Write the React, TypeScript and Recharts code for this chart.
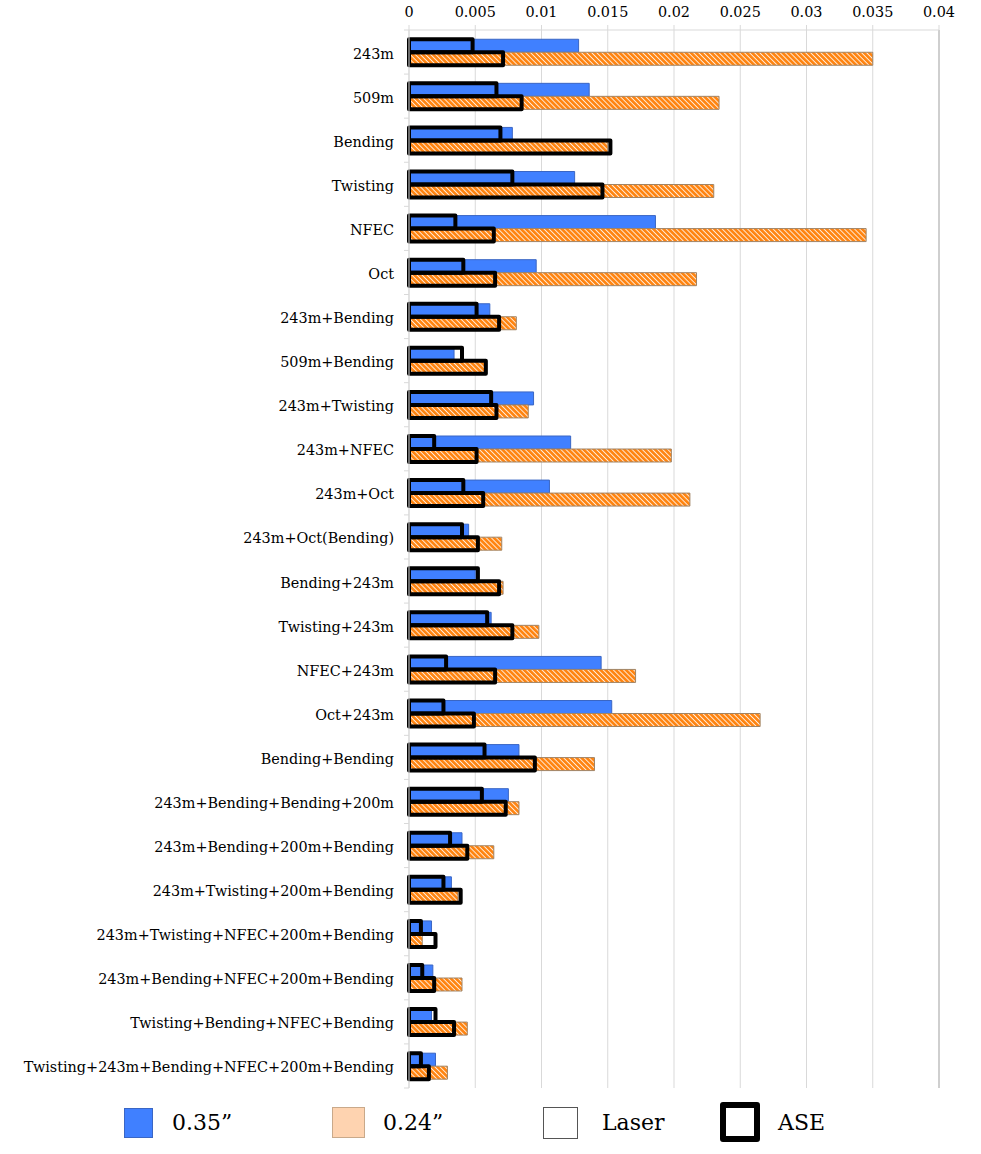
import React from 'react';
import { BarChart, Bar, XAxis, YAxis, CartesianGrid, ReferenceLine } from 'recharts';

const CATEGORIES = [
  '243m',
  '509m',
  'Bending',
  'Twisting',
  'NFEC',
  'Oct',
  '243m+Bending',
  '509m+Bending',
  '243m+Twisting',
  '243m+NFEC',
  '243m+Oct',
  '243m+Oct(Bending)',
  'Bending+243m',
  'Twisting+243m',
  'NFEC+243m',
  'Oct+243m',
  'Bending+Bending',
  '243m+Bending+Bending+200m',
  '243m+Bending+200m+Bending',
  '243m+Twisting+200m+Bending',
  '243m+Twisting+NFEC+200m+Bending',
  '243m+Bending+NFEC+200m+Bending',
  'Twisting+Bending+NFEC+Bending',
  'Twisting+243m+Bending+NFEC+200m+Bending',
];

// 0.35" fiber, laser source
const LASER_035 = [
  0.0128, 0.0136, 0.0078, 0.0125, 0.0186, 0.0096, 0.0061, 0.0034, 0.0094, 0.0122, 0.0106, 0.0045,
  0.005, 0.0062, 0.0145, 0.0153, 0.0083, 0.0075, 0.004, 0.0032, 0.0017, 0.0018, 0.0017, 0.002,
];
// 0.35" fiber, ASE source
const ASE_035 = [
  0.0048, 0.0066, 0.0069, 0.0078, 0.0035, 0.0041, 0.0051, 0.004, 0.0062, 0.0019, 0.0041, 0.004,
  0.0052, 0.0059, 0.0028, 0.0026, 0.0057, 0.0055, 0.0031, 0.0026, 0.0009, 0.001, 0.002, 0.0009,
];
// 0.24" fiber, laser source
const LASER_024 = [
  0.035, 0.0234, 0.015, 0.023, 0.0345, 0.0217, 0.0081, 0.0057, 0.009, 0.0198, 0.0212, 0.007,
  0.0071, 0.0098, 0.0171, 0.0265, 0.014, 0.0083, 0.0064, 0.0037, 0.001, 0.004, 0.0044, 0.0029,
];
// 0.24" fiber, ASE source
const ASE_024 = [
  0.0071, 0.0085, 0.0152, 0.0146, 0.0064, 0.0065, 0.0068, 0.0058, 0.0066, 0.0051, 0.0056, 0.0052,
  0.0068, 0.0078, 0.0065, 0.0049, 0.0095, 0.0073, 0.0044, 0.0039, 0.002, 0.0019, 0.0034, 0.0015,
];

const X_TICKS = [0, 0.005, 0.01, 0.015, 0.02, 0.025, 0.03, 0.035, 0.04];

const data = CATEGORIES.map((name, i) => ({
  name,
  laser35: LASER_035[i],
  laser24: LASER_024[i],
  ase35: ASE_035[i],
  ase24: ASE_024[i],
}));

const FONT = '"DejaVu Serif", serif';
const GRID = '#d9d9d9';

// label at the band centre, tick marks at the band edges (Excel style)
const CategoryTick = (props: any) => {
  const { x, y, payload, index, visibleTicksCount } = props;
  const half = payload && payload.offset ? payload.offset : 22;
  const axisX = x + 15;
  const last = index === (visibleTicksCount || CATEGORIES.length) - 1;
  return (
    <g>
      <line x1={axisX - 5} x2={axisX} y1={y - half} y2={y - half} stroke={GRID} />
      {last && <line x1={axisX - 5} x2={axisX} y1={y + half} y2={y + half} stroke={GRID} />}
      <text x={x} y={y} dy="0.45em" textAnchor="end" fontFamily={FONT} fontSize={14.4} fill="#000">
        {payload.value}
      </text>
    </g>
  );
};

const legendItems = [
  { label: '0.35\u201d', left: 124, top: 1108, w: 29, h: 30, box: { background: '#4080ff', border: '1px solid #3a66c4' }, textLeft: 172 },
  { label: '0.24\u201d', left: 332, top: 1107, w: 33, h: 31, box: { background: '#fed3b0', border: '1px solid #c9a98a' }, textLeft: 383 },
  { label: 'Laser', left: 543, top: 1107, w: 35, h: 32, box: { background: '#fff', border: '1px solid #555' }, textLeft: 602 },
  { label: 'ASE', left: 720, top: 1102, w: 40, h: 40, box: { background: '#fff', border: '6px solid #000', borderRadius: 3 }, textLeft: 778 },
];

export default function App() {
  return (
    <div style={{ position: 'absolute', left: 0, top: 0, width: 981, height: 1154, background: '#fff' }}>
      <BarChart
        width={981}
        height={1090}
        data={data}
        layout="vertical"
        margin={{ top: 0, right: 42, bottom: 2, left: 0 }}
        barCategoryGap="21%"
        barGap={0}
      >
        <defs>
          <pattern id="hatch" width="3.6" height="3.6" patternUnits="userSpaceOnUse" patternTransform="rotate(45)">
            <rect width="3.6" height="3.6" fill="#ff8410" />
            <line x1="0" y1="0.5" x2="3.6" y2="0.5" stroke="#fff" strokeWidth="0.8" />
          </pattern>
        </defs>
        <CartesianGrid horizontal={false} stroke={GRID} yAxisId="main" />
        <XAxis
          type="number"
          orientation="top"
          domain={[0, 0.04]}
          ticks={X_TICKS}
          interval={0}
          height={30}
          axisLine={{ stroke: GRID }}
          tickLine={{ stroke: GRID }}
          tickSize={5}
          tickMargin={8}
          tick={{ fontSize: 14.4, fontFamily: FONT, fill: '#000' }}
        />
        <YAxis
          yAxisId="main"
          type="category"
          dataKey="name"
          width={409}
          interval={0}
          axisLine={{ stroke: GRID }}
          tickLine={false}
          tickSize={5}
          tickMargin={10}
          tick={<CategoryTick />}
        />
        <YAxis yAxisId="ase" type="category" dataKey="name" width={0} hide />
        <ReferenceLine x={X_TICKS[X_TICKS.length - 1]} yAxisId="main" stroke="#cfcfcf" strokeWidth={2} />
        <Bar yAxisId="main" dataKey="laser35" fill="#4080ff" stroke="#3a66c4" strokeWidth={1} isAnimationActive={false} />
        <Bar yAxisId="main" dataKey="laser24" fill="url(#hatch)" stroke="#a08466" strokeWidth={1} isAnimationActive={false} />
        <Bar yAxisId="ase" dataKey="ase35" fill="none" stroke="#000" strokeWidth={4} strokeLinejoin="round" isAnimationActive={false} />
        <Bar yAxisId="ase" dataKey="ase24" fill="none" stroke="#000" strokeWidth={4} strokeLinejoin="round" isAnimationActive={false} />
      </BarChart>
      {legendItems.map((it) => (
        <React.Fragment key={it.label}>
          <div
            style={{
              position: 'absolute',
              left: it.left,
              top: it.top,
              width: it.w,
              height: it.h,
              boxSizing: 'border-box',
              ...it.box,
            }}
          />
          <div
            style={{
              position: 'absolute',
              left: it.textLeft,
              top: 1109,
              height: 28,
              lineHeight: '28px',
              fontFamily: FONT,
              fontSize: 22,
              color: '#000',
            }}
          >
            {it.label}
          </div>
        </React.Fragment>
      ))}
    </div>
  );
}
